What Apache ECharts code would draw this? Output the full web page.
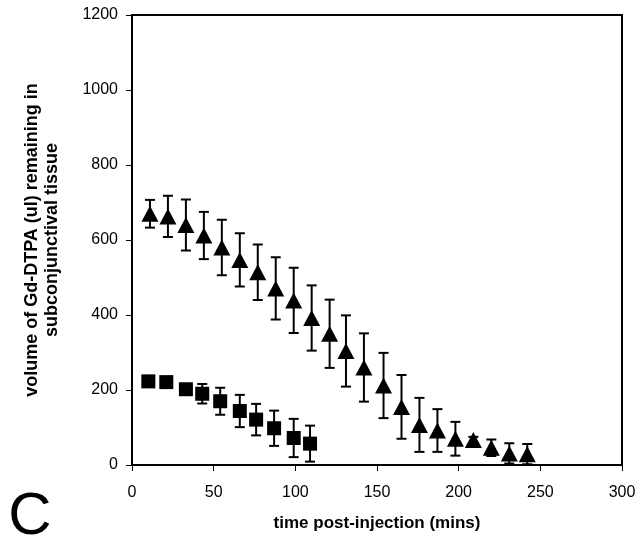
<!DOCTYPE html>
<html>
<head>
<meta charset="utf-8">
<script src="https://cdn.jsdelivr.net/npm/echarts@6/dist/echarts.min.js"></script>
<style>html,body{margin:0;padding:0;background:#fff;}#c{width:641px;height:544px;}</style>
</head>
<body>
<div id="c"></div>
<script>
// Triangles series
var triTimes = [11, 22, 33, 44, 55, 66, 77, 88, 99, 110, 121, 131, 142, 154, 165, 176, 187, 198, 209, 220, 231, 242];
var triMeans = [670, 663, 640, 612, 580, 547, 514, 471, 439, 392, 350, 304, 260, 212, 155, 107, 92, 70, 67, 46, 31, 29];
var triErrs  = [37, 55, 68, 63, 74, 71, 74, 83, 87, 87, 91, 95, 91, 87, 85, 72, 57, 45, 8, 22, 27, 27];
// Squares series
var sqTimes = [10, 21, 33, 43, 54, 66, 76, 87, 99, 109];
var sqMeans = [223, 221, 202, 190, 170, 144, 121, 98, 72, 57];
var sqErrs  = [10, 10, 12, 26, 36, 43, 42, 47, 51, 48];
// Axis ticks
var xTicks = [0, 50, 100, 150, 200, 250, 300];
var yTicks = [0, 200, 400, 600, 800, 1000, 1200];

var FONT = '"Liberation Sans", Arial, sans-serif';

function pts(t, m) { return t.map(function (v, i) { return [v, m[i]]; }); }
function errData(t, m, e) { return t.map(function (v, i) { return [v, m[i], e[i]]; }); }

function errRender(params, api) {
  var x = api.value(0), y = api.value(1), e = api.value(2);
  var top = api.coord([x, y + e]);
  var bot = api.coord([x, y - e]);
  var hw = 5;
  var st = { stroke: '#000', lineWidth: 2 };
  return {
    type: 'group',
    children: [
      { type: 'line', shape: { x1: top[0], y1: top[1], x2: bot[0], y2: bot[1] }, style: st },
      { type: 'line', shape: { x1: top[0] - hw, y1: top[1], x2: top[0] + hw, y2: top[1] }, style: st },
      { type: 'line', shape: { x1: bot[0] - hw, y1: bot[1], x2: bot[0] + hw, y2: bot[1] }, style: st }
    ]
  };
}

var chart = echarts.init(document.getElementById('c'), null, { renderer: 'canvas' });
chart.setOption({
  backgroundColor: '#fff',
  animation: false,
  grid: { left: 132, right: 19, top: 15, bottom: 79, show: true, borderColor: '#000', borderWidth: 2, backgroundColor: 'transparent' },
  xAxis: {
    type: 'value', min: xTicks[0], max: xTicks[xTicks.length - 1], interval: 50,
    axisLine: { show: true, lineStyle: { color: '#000', width: 2 } },
    axisTick: { show: true, inside: false, length: 6, lineStyle: { color: '#000', width: 1 } },
    axisLabel: { color: '#000', fontSize: 16, fontFamily: FONT, margin: 20, formatter: function (v) { return String(v); } },
    splitLine: { show: false },
    name: 'time post-injection (mins)', nameLocation: 'middle', nameGap: 50,
    nameTextStyle: { color: '#000', fontSize: 17, fontWeight: 'bold', fontFamily: FONT }
  },
  yAxis: {
    type: 'value', min: yTicks[0], max: yTicks[yTicks.length - 1], interval: 200,
    axisLine: { show: true, lineStyle: { color: '#000', width: 2 } },
    axisTick: { show: true, inside: false, length: 6, lineStyle: { color: '#000', width: 1 } },
    axisLabel: { color: '#000', fontSize: 16, fontFamily: FONT, margin: 14, formatter: function (v) { return String(v); } },
    splitLine: { show: false }
  },
  graphic: [
    {
      type: 'text', x: 42, y: 240, rotation: Math.PI / 2,
      style: {
        text: 'volume of Gd-DTPA (ul) remaining in\nsubconjunctival tissue',
        align: 'center', verticalAlign: 'middle', lineHeight: 20,
        font: 'bold 18px ' + FONT, fill: '#000'
      }
    },
    {
      type: 'text', x: 30, y: 517,
      style: { text: 'C', align: 'center', verticalAlign: 'middle', font: '60px ' + FONT, fill: '#000' }
    }
  ],
  series: [
    { type: 'custom', renderItem: errRender, data: errData(triTimes, triMeans, triErrs), z: 3, silent: true },
    { type: 'custom', renderItem: errRender, data: errData(sqTimes, sqMeans, sqErrs), z: 3, silent: true },
    { type: 'scatter', symbol: 'triangle', symbolSize: [17, 16], data: pts(triTimes, triMeans), itemStyle: { color: '#000', opacity: 1 }, z: 4, silent: true },
    { type: 'scatter', symbol: 'rect', symbolSize: 14, data: pts(sqTimes, sqMeans), itemStyle: { color: '#000', opacity: 1 }, z: 4, silent: true }
  ]
});
</script>
</body>
</html>
